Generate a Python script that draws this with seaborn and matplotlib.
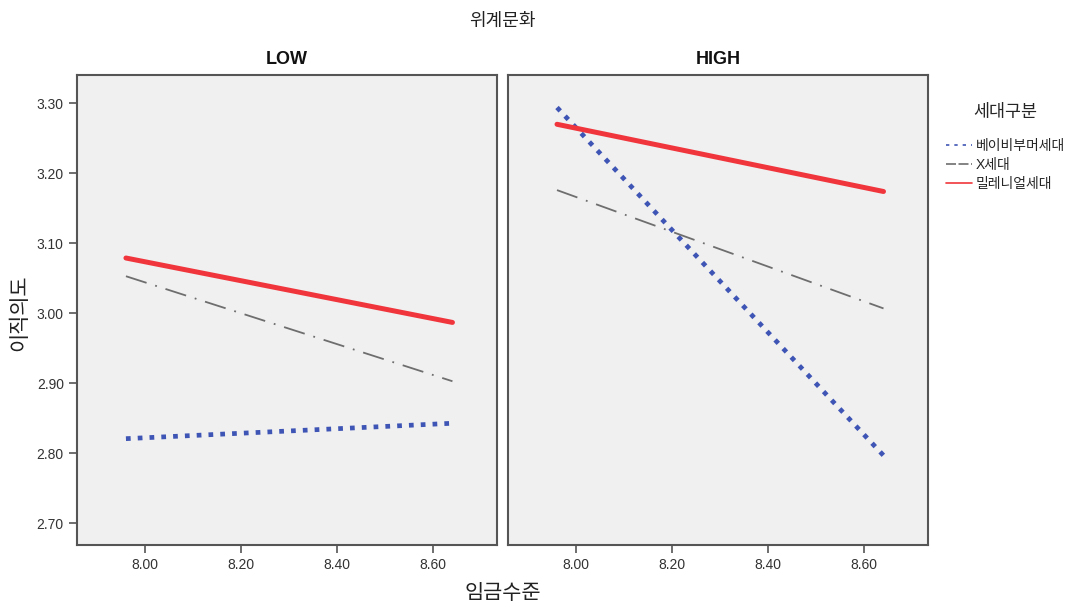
import matplotlib
matplotlib.use("Agg")
import matplotlib.pyplot as plt
import seaborn as sns
import pandas as pd
from matplotlib.lines import Line2D

# data
panels = ["LOW", "HIGH"]
groups = ["베이비부머세대", "X세대", "밀레니얼세대"]
x_vals = [7.96, 8.64]
low_boomer = [2.821, 2.843]
low_x = [3.053, 2.903]
low_millennial = [3.079, 2.987]
high_boomer = [3.294, 2.797]
high_x = [3.176, 3.007]
high_millennial = [3.270, 3.174]
x_ticks = [8.00, 8.20, 8.40, 8.60]
y_ticks = [2.70, 2.80, 2.90, 3.00, 3.10, 3.20, 3.30]

rows = []
for panel, series in zip(panels, [[low_boomer, low_x, low_millennial],
                                  [high_boomer, high_x, high_millennial]]):
    for g, vals in zip(groups, series):
        for x, y in zip(x_vals, vals):
            rows.append({"panel": panel, "group": g, "wage": x, "intent": y})
df = pd.DataFrame(rows)

sns.set_theme(style="white")
plt.rcParams["font.family"] = ["Liberation Sans", "Noto Sans CJK KR", "DejaVu Sans"]

colors = {"베이비부머세대": "#3F55B5", "X세대": "#6E6E6E", "밀레니얼세대": "#F0363C"}
styles = {
    "베이비부머세대": dict(lw=3.4, dashes=(1.0, 1.5)),
    "X세대": dict(lw=1.3, dashes=(12, 5, 1, 5)),
    "밀레니얼세대": dict(lw=3.6, dashes=()),
}

fig, axes = plt.subplots(1, 2, figsize=(10.78, 6.07), dpi=100, sharey=True)
fig.subplots_adjust(left=0.0714, right=0.861, top=0.876, bottom=0.102, wspace=0.026)

for ax, panel in zip(axes, panels):
    sub = df[df["panel"] == panel]
    for g in groups:
        d = sub[sub["group"] == g]
        sns.lineplot(data=d, x="wage", y="intent", ax=ax, color=colors[g],
                     lw=styles[g]["lw"], legend=False)
        line = ax.lines[-1]
        if styles[g]["dashes"]:
            line.set_dashes(styles[g]["dashes"])
            line.set_dash_capstyle("butt")
    ax.set_facecolor("#F0F0F0")
    ax.set_xlim(7.858, 8.733)
    ax.set_ylim(2.669, 3.34)
    ax.set_xticks(x_ticks)
    ax.set_xticklabels([f"{t:.2f}" for t in x_ticks], fontsize=10, color="#333333")
    ax.set_xlabel("")
    ax.set_ylabel("")
    ax.set_title(panel, fontsize=13, fontweight="bold", pad=8, color="#111111")
    for s in ax.spines.values():
        s.set_color("#555555")
        s.set_linewidth(1.5)
    ax.tick_params(axis="x", direction="out", length=6, width=1.2, color="#555555", bottom=True)

axes[0].set_yticks(y_ticks)
axes[0].set_yticklabels([f"{t:.2f}" for t in y_ticks], fontsize=10, color="#333333")
axes[0].tick_params(axis="y", direction="out", length=6, width=1.2, color="#555555", left=True)
axes[1].tick_params(axis="y", left=False)

fig.text(0.466, 0.965, "위계문화", ha="center", va="center", fontsize=13, color="#222222")
fig.text(0.466, 0.022, "임금수준", ha="center", va="center", fontsize=15, color="#222222")
fig.text(0.018, 0.485, "이직의도", ha="center", va="center", rotation=90, fontsize=15, color="#222222")

handles = [
    Line2D([0], [0], color=colors["베이비부머세대"], lw=1.2, dashes=(2, 3)),
    Line2D([0], [0], color=colors["X세대"], lw=1.2, dashes=(6, 1.5)),
    Line2D([0], [0], color=colors["밀레니얼세대"], lw=1.2),
]
leg = fig.legend(handles, groups, title="세대구분", loc="upper left",
                 bbox_to_anchor=(0.872, 0.838), frameon=False, fontsize=10,
                 title_fontsize=12.5, handlelength=1.9, handletextpad=0.25,
                 labelspacing=0.35, borderaxespad=0.0)
leg._legend_box.sep = 14

fig.savefig("out.png", dpi=100)
